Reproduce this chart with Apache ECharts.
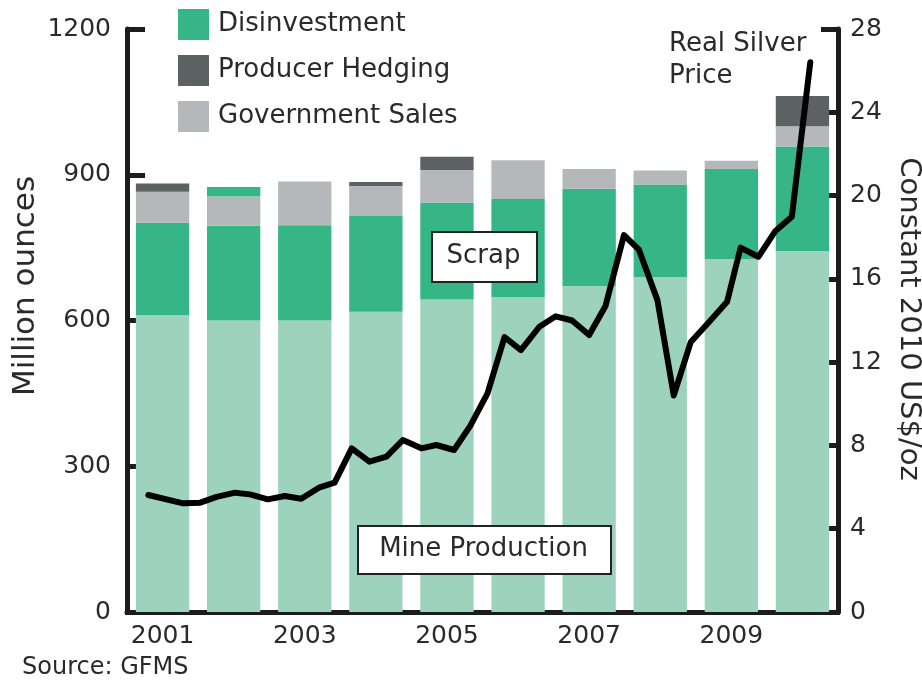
<!DOCTYPE html>
<html><head><meta charset="utf-8">
<script src="https://cdn.jsdelivr.net/npm/echarts@6/dist/echarts.min.js"></script>
<style>html,body{margin:0;padding:0;background:#fff}#c{width:922px;height:685px}</style>
</head><body><div id="c"></div><script>
const years = ['2001','2002','2003','2004','2005','2006','2007','2008','2009','2010'];
const mineProduction = [611,600,600,618,643,648,671,689,726,743];
const scrap = [190,195,196,197,200,202,200,191,186,215];
const governmentSales = [64,60,90,62,67,80,41,29,17,42];
const producerHedging = [17,0,0,8,27,0,0,0,0,62];
const disinvestment = [0,20,0,0,0,0,0,0,0,0];
const priceYears = [2000.80,2001.29,2001.53,2001.76,2002.02,2002.23,2002.48,2002.72,2002.95,2003.21,2003.42,2003.66,2003.91,2004.15,2004.38,2004.64,2004.85,2005.10,2005.33,2005.57,2005.81,2006.04,2006.30,2006.53,2006.76,2007.00,2007.23,2007.49,2007.70,2007.96,2008.19,2008.43,2008.68,2008.94,2009.13,2009.38,2009.62,2009.85,2010.11];
const priceValues = [5.62,5.22,5.25,5.53,5.73,5.65,5.41,5.57,5.44,5.99,6.21,7.86,7.22,7.46,8.26,7.86,8.02,7.78,8.95,10.5,13.2,12.58,13.7,14.2,14.0,13.3,14.7,18.1,17.4,14.98,10.4,12.97,13.9,14.9,17.5,17.06,18.3,18.98,26.4];
const leftTicks = {min:0,max:1200,interval:300};
const rightTicks = {min:0,max:28,interval:4};

const FONT = 'DejaVu Sans';
const TXT = '#2a2a2a';
const AX = '#1c1c1c';
const C = {mine:'#9dd3bd', scrap:'#36b686', gov:'#b5b8ba', hedge:'#5c6164', dis:'#36b686'};

const chart = echarts.init(document.getElementById('c'), null, {renderer:'canvas'});
const barBase = {type:'bar', stack:'total', barCategoryGap:'25%', xAxisIndex:0, yAxisIndex:0};
chart.setOption({
  animation:false,
  textStyle:{fontFamily:FONT},
  grid:{left:127, right:84, top:29, bottom:73, containLabel:false},
  legend:{
    data:['Disinvestment','Producer Hedging','Government Sales'],
    orient:'vertical', left:178, top:9, padding:0,
    itemWidth:31, itemHeight:31, itemGap:15, icon:'rect', selectedMode:false,
    textStyle:{fontFamily:FONT, fontSize:26, color:TXT, padding:[0,0,0,4]}
  },
  xAxis:[{
    type:'category', data:years, position:'bottom',
    axisLine:{lineStyle:{color:AX, width:5}},
    axisTick:{show:true, length:3, lineStyle:{color:AX, width:4}},
    axisLabel:{interval:1, fontFamily:FONT, fontSize:25, color:TXT, margin:12}
  },{
    type:'value', min:2000.5, max:2010.5, show:false
  }],
  yAxis:[{
    type:'value', min:leftTicks.min, max:leftTicks.max, interval:leftTicks.interval, position:'left',
    axisLine:{show:true, lineStyle:{color:AX, width:5}},
    axisTick:{show:true, inside:true, length:18, lineStyle:{color:AX, width:5}},
    axisLabel:{fontFamily:FONT, fontSize:25, color:TXT, margin:16, formatter:v=>String(v)},
    splitLine:{show:false}
  },{
    type:'value', min:rightTicks.min, max:rightTicks.max, interval:rightTicks.interval, position:'right',
    axisLine:{show:true, lineStyle:{color:AX, width:5}},
    axisTick:{show:true, inside:true, length:17, lineStyle:{color:AX, width:5}},
    axisLabel:{fontFamily:FONT, fontSize:25, color:TXT, margin:12, formatter:v=>String(v)},
    splitLine:{show:false}
  }],
  series:[
    Object.assign({name:'Mine Production', data:mineProduction, itemStyle:{color:C.mine}}, barBase),
    Object.assign({name:'Scrap', data:scrap, itemStyle:{color:C.scrap}}, barBase),
    Object.assign({name:'Government Sales', data:governmentSales, itemStyle:{color:C.gov}}, barBase),
    Object.assign({name:'Producer Hedging', data:producerHedging, itemStyle:{color:C.hedge}}, barBase),
    Object.assign({name:'Disinvestment', data:disinvestment, itemStyle:{color:C.dis}}, barBase),
    {
      name:'Real Silver Price', type:'line', xAxisIndex:1, yAxisIndex:1,
      data: priceYears.map((y,i)=>[y, priceValues[i]]),
      symbol:'none', smooth:false, z:5,
      lineStyle:{color:'#000', width:6, join:'round', cap:'round'}
    }
  ],
  graphic:[
    {type:'rect', left:431, top:231, z:100, shape:{width:105, height:50}, style:{fill:'#fff', stroke:'#222', lineWidth:2}},
    {type:'text', x:483.5, y:256, z:101, style:{text:'Scrap', font:'26px "DejaVu Sans"', fill:TXT, align:'center', verticalAlign:'middle'}},
    {type:'rect', left:357, top:525, z:100, shape:{width:253, height:48}, style:{fill:'#fff', stroke:'#222', lineWidth:2}},
    {type:'text', x:483.5, y:549, z:101, style:{text:'Mine Production', font:'26px "DejaVu Sans"', fill:TXT, align:'center', verticalAlign:'middle'}},
    {type:'text', x:669, y:28, z:101, style:{text:'Real Silver\nPrice', font:'26px "DejaVu Sans"', fill:TXT, lineHeight:32, align:'left', verticalAlign:'top'}},
    {type:'text', x:26, y:286, rotation:Math.PI/2, z:101, style:{text:'Million ounces', font:'31px "DejaVu Sans"', fill:TXT, align:'center', verticalAlign:'middle'}},
    {type:'text', x:909, y:319, rotation:-Math.PI/2, z:101, style:{text:'Constant 2010 US$/oz', font:'29px "DejaVu Sans"', fill:TXT, align:'center', verticalAlign:'middle'}},
    {type:'text', x:22, y:668, z:101, style:{text:'Source: GFMS', font:'24px "DejaVu Sans"', fill:TXT, align:'left', verticalAlign:'middle'}}
  ]
});
</script></body></html>
